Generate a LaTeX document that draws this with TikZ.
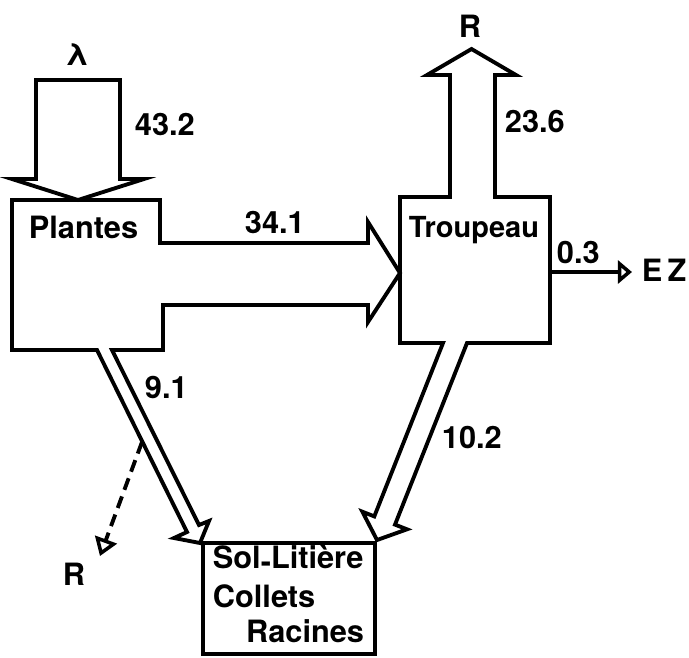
\documentclass[tikz,border=0pt]{standalone}
\usepackage{fontspec}
\setmainfont{TeX Gyre Heros}
\usetikzlibrary{arrows.meta}

\begin{document}
\begin{tikzpicture}[x=0.02cm, y=-0.02cm, line width=2.2pt]
\tikzset{
        lbl/.style={font=\fontsize{17.5}{20}\selectfont\bfseries, inner sep=0pt},
        flux/.style={-{Triangle[open, length=8pt, width=13pt, line width=2pt]}},
        perte/.style={-{Triangle[open, length=10pt, width=13pt, line width=2pt]}, dash pattern=on 7pt off 4pt},
    }
\useasboundingbox (0,0) rectangle (689,657);

% compartiment Plantes, flux 34.1 et flux 9.1
\draw (97,350) -- (12,350) -- (12,200) -- (160,200) -- (160,243)
  -- (368,243) -- (368,222) -- (400,273) -- (368,322) -- (368,305)
  -- (163,305) -- (163,350) -- (112,350)
  -- (199,525) -- (209,521) -- (200,543) -- (174,538) -- (187,532) -- cycle;

% compartiment Troupeau, flux 23.6 et flux 10.2
\draw (400,343) -- (400,197) -- (450,197) -- (450,75) -- (427,75)
  -- (471.5,49) -- (516,75) -- (495,75) -- (495,197) -- (550,197)
  -- (550,343) -- (467,343)
  -- (395,524.6) -- (407,529.3) -- (377,540) -- (362.4,511.7) -- (374.3,516.4)
  -- (443,343) -- cycle;

% flux entrant
\draw (36,179) -- (36,80) -- (120,80) -- (120,179) -- (144,179)
  -- (78,200) -- (12,179) -- cycle;

% compartiment Sol
\draw (203,543) rectangle (375,654);

\node[lbl, anchor=base] (lam) at (77,65) {λ};
\node[lbl, anchor=base west] (f-in) at (133,135) {43.2};
\node[lbl, anchor=base west] (plantes) at (27,238) {Plantes};
\node[lbl, anchor=base west] (f-pt) at (243,233) {34.1};
\node[lbl, anchor=base west, font=\fontsize{16.5}{20}\selectfont\bfseries] (troupeau) at (407,237) {Troupeau};
\node[lbl, anchor=base west] (f-tr) at (503,132) {23.6};
\node[lbl, anchor=base] (r-t) at (470,37) {R};
\node[lbl, anchor=base west] (f-ez) at (555,263) {0.3};
\node[lbl, anchor=base west] (ez) at (640,281) {E\,Z};
\node[lbl, anchor=base west] (f-ps) at (143,398) {9.1};
\node[lbl, anchor=base] (r-p) at (74,585) {R};
\node[lbl, anchor=base west] (f-ts) at (440,448) {10.2};
\node[lbl, anchor=base west] (sol) at (211,568) {Sol\raisebox{-2.5pt}{-}Litière};
\node[lbl, anchor=base west] (collets) at (211,607) {Collets};
\node[lbl, anchor=base east] (racines) at (366,642) {Racines};

\coordinate (t-ez) at (550,272);
\coordinate (ez-tip) at (632,272);
\coordinate (p-fuite) at (142,442);
\coordinate (p-tip) at (100,556);
\draw[flux] (t-ez) -- (ez-tip);
\draw[perte] (p-fuite) -- (p-tip);
\end{tikzpicture}
\end{document}
